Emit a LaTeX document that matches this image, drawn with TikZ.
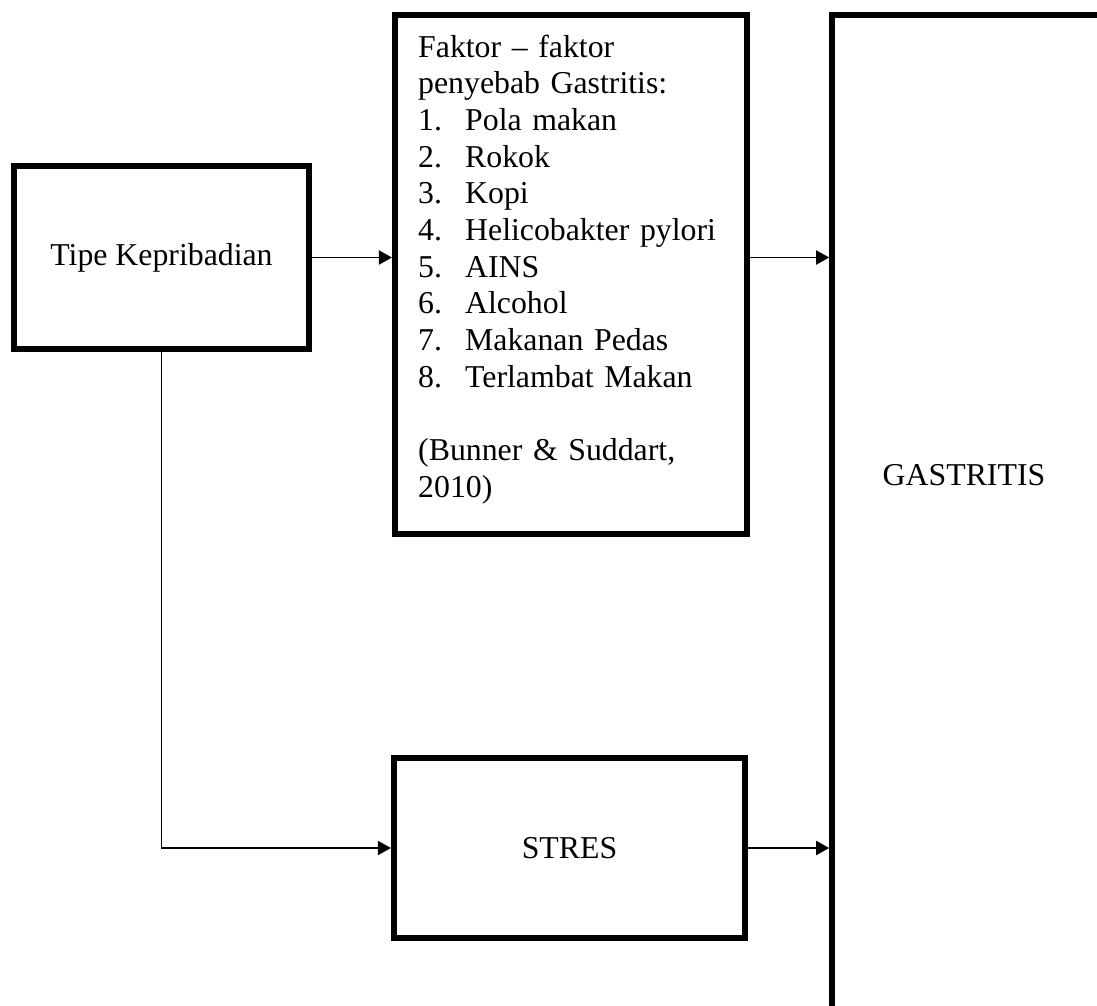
\documentclass[tikz,border=0pt]{standalone}
\usepackage{fontspec}
\setmainfont{Liberation Serif}
\usetikzlibrary{arrows.meta}
\tikzset{
  thickbox/.style={draw=black, line width=5.6pt, rectangle, inner sep=0pt, fill=white},
  conn/.style={draw=black, line width=1.9pt},
  arr/.style={conn, -{Triangle[length=13pt,width=14pt]}},
  bodytext/.style={font=\fontsize{31.8}{36.7}\selectfont},
}
\newcommand{\itemno}[1]{\makebox[47pt][l]{#1}}
\begin{document}
\begin{tikzpicture}[x=1pt,y=-1pt]
\useasboundingbox (0,0) rectangle (1097,1005);
\clip (0,0) rectangle (1097,1005);
% boxes
\node[thickbox, bodytext, minimum width=295.5pt, minimum height=183pt] (tipe) at (161.5,257.5) {Tipe Kepribadian};
\node[thickbox, minimum width=352.5pt, minimum height=519pt] (faktor) at (571,274.5) {};
\node[bodytext, anchor=base west, text width=330pt, align=left, inner sep=0pt] (faktortext) at (418,57)
  {Faktor – faktor\\
   penyebab Gastritis:\\
   \itemno{1.}Pola makan\\
   \itemno{2.}Rokok\\
   \itemno{3.}Kopi\\
   \itemno{4.}Helicobakter pylori\\
   \itemno{5.}AINS\\
   \itemno{6.}Alcohol\\
   \itemno{7.}Makanan Pedas\\
   \itemno{8.}Terlambat Makan\\
   \mbox{}\\
   (Bunner \& Suddart,\\
   2010)};
\node[thickbox, bodytext, minimum width=351.5pt, minimum height=180pt] (stres) at (569.5,848) {STRES};
\node[thickbox, minimum width=267.5pt, minimum height=1085pt] (gastritis) at (965.75,557.5) {};
\node[bodytext, inner sep=0pt] (gastritislabel) at (964,475) {GASTRITIS};
% connectors
\draw[arr] (tipe.east) -- (tipe.east -| faktor.west);
\draw[arr] (tipe.east -| faktor.east) -- (tipe.east -| gastritis.west);
\draw[arr] (tipe.south) |- (stres.west);
\draw[arr] (stres.east) -- (stres.east -| gastritis.west);
\end{tikzpicture}
\end{document}
